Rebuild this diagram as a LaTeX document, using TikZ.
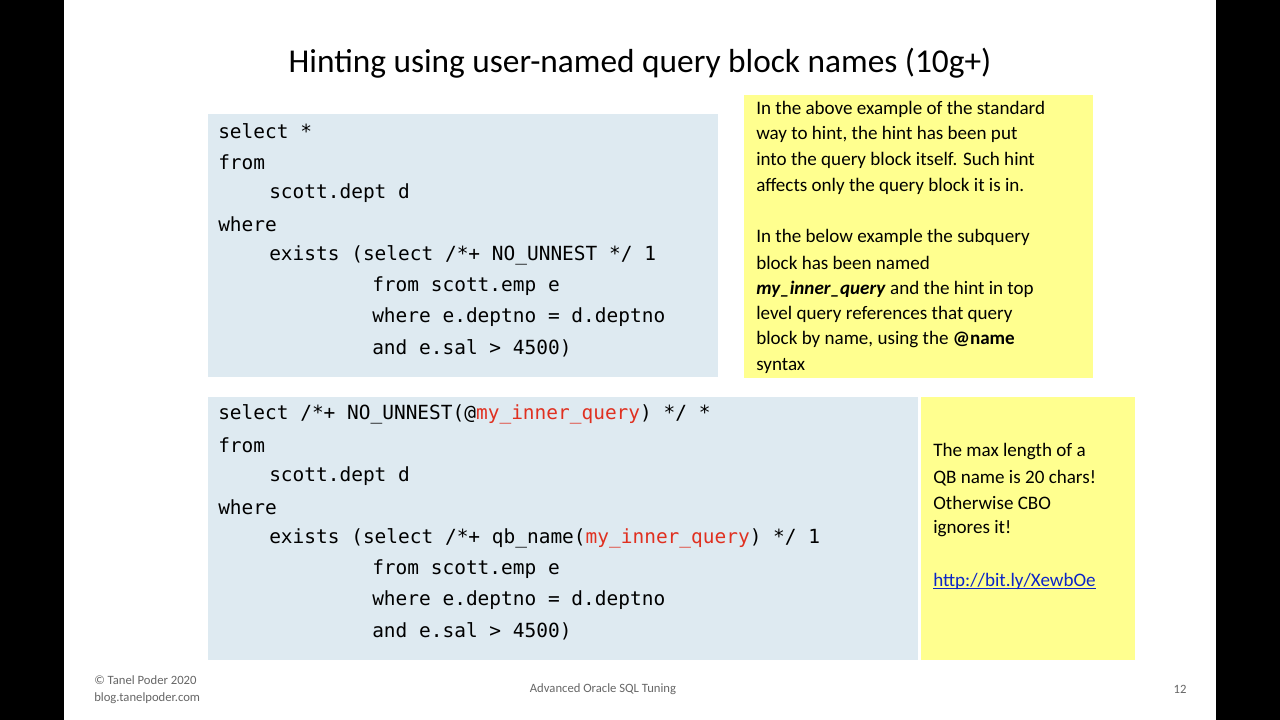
\documentclass[tikz,border=0pt]{standalone}
\usepackage{fontspec}
\setmainfont{Carlito}
\setmonofont{DejaVu Sans Mono}
\definecolor{codebg}{HTML}{DEEAF1}
\definecolor{note}{HTML}{FFFF8F}
\definecolor{qred}{HTML}{E03020}
\definecolor{lnk}{HTML}{0B24C8}
\begin{document}
\begin{tikzpicture}[x=0.75pt,y=-0.75pt,
 code/.style={anchor=west,inner sep=0,font=\ttfamily\fontsize{14.6}{16}\selectfont},
 txt/.style={anchor=west,inner sep=0,font=\fontsize{14.3}{16}\selectfont},
 foot/.style={inner sep=0,font=\fontsize{9.5}{11}\selectfont,text=gray!80!black}]
\fill[black] (0,0) rectangle (1280,720);
\fill[white] (64,0) rectangle (1216,720);
\node[inner sep=0,font=\fontsize{25}{30}\selectfont] (title) at (640,63) {Hinting using user-named query block names (10g+)};
\fill[codebg] (208,114) rectangle (718,377);
\fill[note] (744,95) rectangle (1093,378);
\fill[codebg] (208,397) rectangle (918,660);
\fill[note] (921,397) rectangle (1135,660);
% code 1
\node[code] (a1) at (218,131) {select *};
\node[code] (a2) at (218,162) {from};
\node[code] (a3) at (269,193) {scott.dept d};
\node[code] (a4) at (218,224) {where};
\node[code] (a5) at (269,255) {exists (select /*+ NO\_UNNEST */ 1};
\node[code] (a6) at (372,286) {from scott.emp e};
\node[code] (a7) at (372,317) {where e.deptno = d.deptno};
\node[code] (a8) at (372,348) {and e.sal > 4500)};
% code 2
\node[code] (b1) at (218,414) {select /*+ NO\_UNNEST(@\textcolor{qred}{my\_inner\_query}) */ *};
\node[code] (b2) at (218,445) {from};
\node[code] (b3) at (269,476) {scott.dept d};
\node[code] (b4) at (218,507) {where};
\node[code] (b5) at (269,538) {exists (select /*+ qb\_name(\textcolor{qred}{my\_inner\_query}) */ 1};
\node[code] (b6) at (372,569) {from scott.emp e};
\node[code] (b7) at (372,600) {where e.deptno = d.deptno};
\node[code] (b8) at (372,631) {and e.sal > 4500)};
% note 1
\node[txt] (n1) at (756,109) {In the above example of the standard};
\node[txt] (n2) at (756,134) {way to hint, the hint has been put};
\node[txt] (n3) at (756,160) {into the query block itself. Such hint};
\node[txt] (n4) at (756,186) {affects only the query block it is in.};
\node[txt] (n5) at (756,237) {In the below example the subquery};
\node[txt] (n6) at (756,263) {block has been named};
\node[txt] (n7) at (756,289) {\textbf{\textit{my\_inner\_query}} and the hint in top};
\node[txt] (n8) at (756,314) {level query references that query};
\node[txt] (n9) at (756,340) {block by name, using the \textbf{@name}};
\node[txt] (n10) at (756,366) {syntax};
% note 2
\node[txt] (m1) at (933,452) {The max length of a};
\node[txt] (m2) at (933,478) {QB name is 20 chars!};
\node[txt] (m3) at (933,503) {Otherwise CBO};
\node[txt] (m4) at (933,529) {ignores it!};
\node[txt,text=lnk] (m5) at (933,581) {http://bit.ly/XewbOe};
\draw[lnk,line width=0.7pt] ([yshift=-2pt]m5.base west) -- ([yshift=-2pt]m5.base east);
% footer
\node[foot,anchor=west] (f1) at (94,680) {© Tanel Poder 2020};
\node[foot,anchor=west] (f2) at (94,698) {blog.tanelpoder.com};
\node[foot] (f3) at (603,689) {Advanced Oracle SQL Tuning};
\node[foot] (f4) at (1180,689) {12};
\end{tikzpicture}
\end{document}
